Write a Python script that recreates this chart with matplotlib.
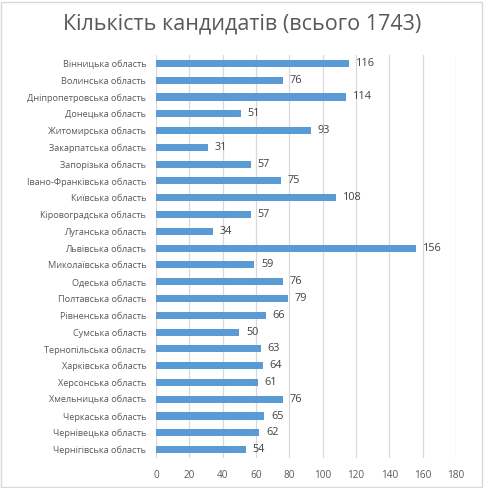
import matplotlib.pyplot as plt
from matplotlib.patches import Rectangle

regions = ["Вінницька область", "Волинська область", "Дніпропетровська область",
           "Донецька область", "Житомирська область", "Закарпатська область",
           "Запорізька область", "Івано-Франківська область", "Київська область",
           "Кіровоградська область", "Луганська область", "Львівська область",
           "Миколаївська область", "Одеська область", "Полтавська область",
           "Рівненська область", "Сумська область", "Тернопільська область",
           "Харківська область", "Херсонська область", "Хмельницька область",
           "Черкаська область", "Чернівецька область", "Чернігівська область"]
counts = [116, 76, 114, 51, 93, 31, 57, 75, 108, 57, 34, 156, 59, 76, 79, 66,
          50, 63, 64, 61, 76, 65, 62, 54]
xticks = [0, 20, 40, 60, 80, 100, 120, 140, 160, 180]

plt.rcParams['font.family'] = ['Open Sans', 'DejaVu Sans']
txt = '#595959'

fig = plt.figure(figsize=(4.84, 4.88), dpi=100)
ax = fig.add_axes([156 / 484, 1 - 458 / 488, 300 / 484, 403 / 488])

pos = list(range(len(regions)))
ax.barh(pos, counts, height=0.42, color='#5B9BD5', zorder=3)
for p, c in zip(pos, counts):
    ax.text(c + 4, p, str(c), va='center', ha='left', fontsize=7.8, color='#404040')

ax.set_ylim(len(regions) - 0.5, -0.5)
ax.set_xlim(0, 180)
ax.set_yticks(pos)
ax.set_yticklabels(regions, fontsize=6.6, color=txt)
ax.set_xticks(xticks)
ax.set_xticklabels([str(v) for v in xticks], fontsize=7.2, color=txt)
ax.tick_params(length=0, pad=7)
ax.tick_params(axis='x', pad=9)
ax.grid(axis='x', color='#D9D9D9', linewidth=0.9, zorder=0)
for s in ax.spines.values():
    s.set_visible(False)

fig.text(0.5, 1 - 24 / 488, "Кількість кандидатів (всього 1743)", ha='center', va='center',
         fontsize=15.5, color=txt)
fig.patches.append(Rectangle((0.002, 0.002), 0.994, 0.994, transform=fig.transFigure,
                             fill=False, edgecolor='#D9D9D9', linewidth=1))

fig.savefig('out.png', dpi=100)
